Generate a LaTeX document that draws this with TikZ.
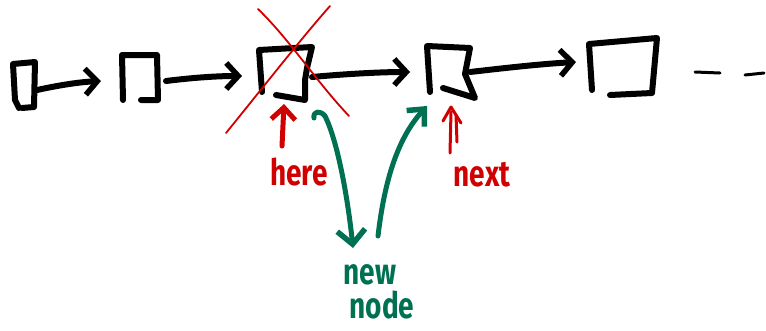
\documentclass[tikz,border=0pt]{standalone}
\usepackage{fontspec}
\setmainfont{Fira Sans}
\usetikzlibrary{arrows.meta}
\definecolor{penred}{RGB}{208,0,0}
\definecolor{pengreen}{RGB}{0,112,82}
\tikzset{
  pen/.style={line width=6pt,line cap=round,line join=round},
  boxline/.style={pen,black},
  link/.style={pen,black,-{Straight Barb[length=12pt,width=26pt,line width=5.5pt]}},
  redpen/.style={line width=5pt,line cap=round,line join=round,penred},
  greenpen/.style={line width=5pt,line cap=round,line join=round,pengreen},
  strike/.style={line width=1.8pt,line cap=round,penred},
  scrawl/.style={font=\fontsize{28}{28}\selectfont\bfseries,inner sep=0pt,yscale=1.3}
}
\begin{document}
\begin{tikzpicture}[x=1pt,y=-1pt]
\useasboundingbox (0,0) rectangle (766,330);

% the list cells, sketched by hand
\draw[boxline] (19,108) -- (15,100) -- (13,64) -- (35,62) -- (34,107) -- (22,108);
\draw[boxline] (123,100) -- (122,55) -- (157,55) -- (158,100) -- (141,100);
\draw[boxline] (262,92) -- (259,50) -- (312,47) -- (307,68) -- (305,80) -- (305,100) -- (276,95);
\draw[boxline] (430,92) -- (427,46) -- (470,48) -- (465,74) -- (475,98) -- (443,88);
\draw[boxline] (592,90) -- (589,44) -- (657,38) -- (652,93) -- (610,95);

% anchor points of the links
\coordinate (o1) at (37,90);  \coordinate (i2) at (101,81);
\coordinate (o2) at (166,81); \coordinate (i3) at (242,76);
\coordinate (o3) at (312,77); \coordinate (i4) at (410,72);
\coordinate (o4) at (470,72); \coordinate (i5) at (576,62);

\draw[link] (o1) .. controls (60,85) and (80,82) .. (i2);
\draw[link] (o2) .. controls (190,78) and (215,76) .. (i3);
\draw[link] (o3) .. controls (345,74) and (380,72) .. (i4);
\draw[link] (o4) .. controls (505,68) and (540,64) .. (i5);

% trailing dashes
\draw[line width=3pt,line cap=round] (695,72) -- (720,73);
\draw[line width=3pt,line cap=round] (745,75) -- (764,73);

% the removed cell is crossed out
\draw[strike] (226,133) .. controls (265,85) and (300,40) .. (330,6);
\draw[strike] (258,9) .. controls (290,40) and (315,80) .. (349,116);

% pointer labels
\node[scrawl,text=penred] (here) at (299,172) {here};
\node[scrawl,text=penred] (next) at (482,175) {next};
\node[scrawl,text=pengreen] (new) at (370,275) {new};
\node[scrawl,text=pengreen] (node) at (382,305) {node};

\coordinate (hereTip) at (284,104);
\draw[redpen,-{Straight Barb[length=12pt,width=24pt,line width=5pt]}] (282,146) -- (hereTip);

% double-stroke pointer for next
\coordinate (nextTip) at (451,107);
\draw[line width=3pt,line cap=round,penred] (450,153) -- (451,112);
\draw[line width=3pt,line cap=round,penred] (457,142) -- (456,115);
\draw[line width=3pt,line cap=round,line join=round,penred] (443,121) -- (nextTip) -- (461,123);

% the new node is spliced in between
\coordinate (newIn) at (353,248);
\coordinate (newOut) at (378,236);
\coordinate (nextIn) at (427,106);
\draw[greenpen,-{Straight Barb[length=14pt,width=28pt,line width=5.5pt]}]
  (314,118) .. controls (313,111) and (320,110) .. (325,116)
  .. controls (338,142) and (348,200) .. (newIn);
\draw[greenpen,-{Straight Barb[length=13pt,width=24pt,line width=5.5pt]}]
  (newOut) .. controls (384,185) and (396,140) .. (nextIn);
\end{tikzpicture}
\end{document}
